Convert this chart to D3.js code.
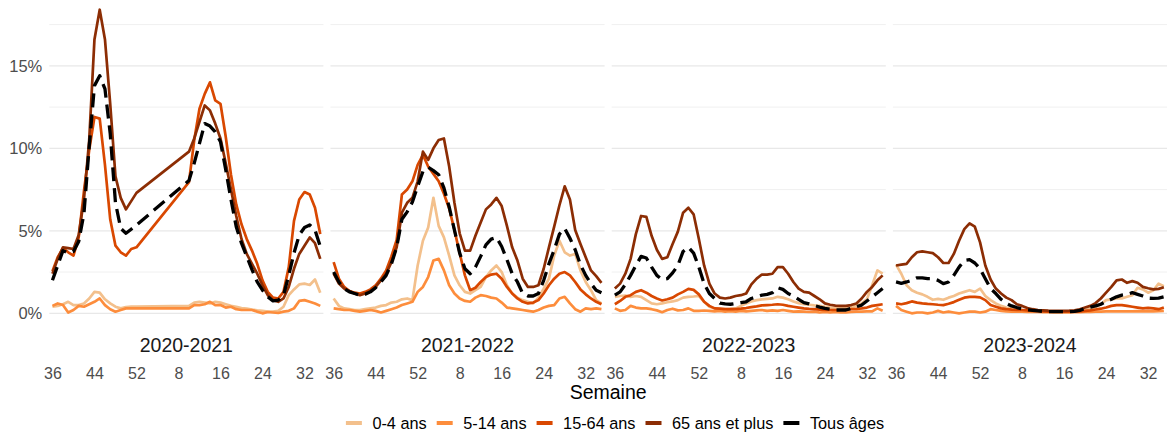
<!DOCTYPE html>
<html><head><meta charset="utf-8">
<script src="https://cdn.jsdelivr.net/npm/d3@7"></script>
<style>
body{margin:0;background:#fff;}
svg text{font-family:"Liberation Sans",Arial,sans-serif;}
</style>
</head><body>
<svg id="chart" width="1167" height="432"></svg>
<script>
// ---------- DATA ----------
const seasons = ["2020-2021", "2021-2022", "2022-2023", "2023-2024"];
const weeks = [36,37,38,39,40,41,42,43,44,45,46,47,48,49,50,51,52,
               1,2,3,4,5,6,7,8,9,10,11,12,13,14,15,16,17,18,19,20,21,22,23,24,25,26,27,28,29,30,31,32,33,34,35];
const tickWeeks = [36, 44, 52, 8, 16, 24, 32];
const yTicks = [0, 5, 10, 15];
const yMinor = [2.5, 7.5, 12.5, 17.5];
const ageGroups = ["0-4 ans", "5-14 ans", "15-64 ans", "65 ans et plus", "Tous âges"];
const groupColors = ["#f3c08c", "#fd8d3c", "#d94801", "#8c2d04", "#000000"];

// 2020-2021 (null = missing weeks)
const s2021_a04  = [0.4,0.45,0.55,0.7,0.5,0.5,0.6,0.9,1.3,1.25,0.85,0.6,0.4,0.3,0.38,0.4,0.4,null,null,null,null,null,null,null,null,null,0.45,0.65,0.7,0.65,0.6,0.7,0.65,0.55,0.45,0.4,0.32,0.28,0.22,0.18,0.15,0.1,0.1,0.15,0.4,1.1,1.45,1.75,1.8,1.72,2.05,1.25];
const s2021_a514 = [0.45,0.6,0.5,0.05,0.2,0.45,0.4,0.55,0.7,0.9,0.5,0.25,0.1,0.2,0.3,0.3,0.3,null,null,null,null,null,null,null,null,null,0.3,0.5,0.5,0.55,0.7,0.5,0.5,0.35,0.4,0.25,0.2,0.2,0.2,0.1,0.0,0.08,0.05,0.02,0.1,0.15,0.3,0.75,0.8,0.7,0.6,0.45];
const s2021_a1564= [2.55,3.4,3.95,3.7,3.5,4.6,7.4,9.9,11.9,11.8,9.0,5.7,4.1,3.7,3.5,3.9,4.0,null,null,null,null,null,null,null,null,null,7.95,10.5,12.4,13.3,14.0,12.9,12.7,10.7,8.4,6.6,5.4,4.5,3.8,3.0,2.0,1.3,0.95,0.9,1.3,2.8,5.6,6.9,7.35,7.2,6.4,4.8];
const s2021_a65  = [2.4,3.3,4.0,3.95,3.9,4.75,6.9,10.5,16.6,18.4,16.6,12.7,8.3,7.0,6.3,6.8,7.3,null,null,null,null,null,null,null,null,null,9.8,10.6,11.6,12.6,12.3,11.5,10.6,9.1,7.5,5.9,4.5,3.6,3.0,2.4,1.7,1.1,0.8,0.7,0.9,1.6,2.7,3.6,4.1,4.6,4.25,3.3];
const s2021_all  = [2.0,2.9,3.8,3.65,3.75,4.35,6.05,10.1,13.8,14.4,13.6,10.9,6.7,5.15,4.85,5.1,5.35,null,null,null,null,null,null,null,null,null,8.05,9.1,10.3,11.5,11.35,11.0,10.4,8.7,6.9,5.25,4.25,3.45,2.65,1.9,1.4,1.0,0.75,0.8,1.1,2.3,3.65,4.75,5.2,5.35,5.05,4.05];

// 2021-2022
const s2122_a04  = [0.9,0.45,0.3,0.25,0.2,0.2,0.25,0.3,0.35,0.45,0.5,0.65,0.7,0.85,0.9,0.8,2.9,4.4,5.2,7.0,5.3,4.6,3.5,2.3,1.7,1.3,1.2,1.4,1.6,2.2,2.6,2.9,2.5,1.7,1.2,0.95,0.8,0.7,0.6,0.95,1.5,2.1,3.5,4.4,3.7,3.5,3.6,2.6,1.9,1.4,0.8,0.6];
const s2122_a514 = [0.3,0.25,0.2,0.2,0.15,0.1,0.15,0.2,0.15,0.05,0.15,0.25,0.35,0.5,0.6,0.7,1.3,1.6,2.2,3.2,3.3,2.6,1.7,1.2,0.9,0.75,0.7,0.95,1.1,1.05,0.95,0.9,0.65,0.35,0.3,0.25,0.2,0.15,0.1,0.2,0.35,0.45,0.5,0.9,1.0,0.6,0.25,0.1,0.3,0.25,0.3,0.25];
const s2122_a1564= [3.1,2.1,1.6,1.35,1.25,1.2,1.3,1.45,1.7,2.1,2.6,3.45,4.45,7.2,7.5,8.0,9.0,9.6,8.9,8.45,8.0,7.25,6.35,5.05,3.65,2.3,1.4,1.55,1.9,2.2,2.35,2.4,2.1,1.6,1.2,0.9,0.7,0.6,0.65,0.8,1.2,1.7,2.1,2.4,2.5,2.3,1.9,1.45,1.15,0.9,0.7,0.55];
const s2122_a65  = [2.4,1.8,1.5,1.35,1.2,1.1,1.2,1.35,1.6,2.0,2.4,3.1,4.0,6.1,6.7,7.0,8.0,9.8,9.3,10.0,10.5,10.6,8.9,6.7,4.85,3.8,3.8,4.7,5.5,6.3,6.6,7.0,6.5,5.3,4.0,3.2,2.1,1.6,1.6,1.7,2.7,4.0,5.25,6.55,7.7,6.9,5.05,4.2,3.4,2.6,2.25,1.85];
const s2122_all  = [2.5,1.9,1.5,1.3,1.2,1.1,1.15,1.3,1.55,1.9,2.3,3.0,4.0,5.7,6.15,6.75,7.7,8.6,8.85,8.65,8.4,7.6,6.45,5.05,3.65,2.7,2.4,2.8,3.45,4.15,4.5,4.6,4.05,3.25,2.4,1.9,1.2,1.05,1.05,1.2,2.0,3.0,3.85,4.8,5.15,4.55,3.85,2.95,2.3,1.8,1.4,1.25];

// 2022-2023
const s2223_a04  = [1.0,1.05,1.08,1.0,1.05,1.0,0.8,0.6,0.55,0.6,0.67,0.72,0.8,0.95,1.0,1.02,1.05,0.7,0.4,0.3,0.25,0.25,0.27,0.3,0.45,0.6,0.72,0.8,0.85,0.88,0.9,1.0,0.95,0.85,0.72,0.62,0.56,0.52,0.48,0.45,0.4,0.35,0.3,0.3,0.3,0.35,0.45,0.6,0.85,1.7,2.6,2.4];
const s2223_a514 = [0.3,0.15,0.2,0.45,0.35,0.3,0.3,0.25,0.18,0.07,0.2,0.28,0.18,0.2,0.3,0.15,0.15,0.17,0.15,0.12,0.15,0.1,0.13,0.1,0.15,0.12,0.15,0.18,0.2,0.15,0.18,0.15,0.2,0.15,0.1,0.12,0.1,0.08,0.1,0.05,0.08,0.05,0.08,0.05,0.05,0.08,0.1,0.1,0.12,0.12,0.3,0.15];
const s2223_a1564= [0.55,0.75,1.0,1.1,1.3,1.4,1.25,1.05,0.9,0.78,0.85,0.95,1.15,1.3,1.48,1.42,1.15,0.7,0.45,0.3,0.28,0.25,0.25,0.25,0.28,0.32,0.38,0.42,0.48,0.5,0.52,0.55,0.52,0.45,0.4,0.35,0.3,0.27,0.25,0.22,0.2,0.2,0.2,0.2,0.22,0.25,0.27,0.3,0.35,0.45,0.5,0.55];
const s2223_a65  = [1.5,1.8,2.4,3.3,4.8,5.9,5.85,4.7,3.85,3.3,3.4,4.2,4.95,6.1,6.4,6.0,4.5,2.9,1.8,1.2,0.95,0.9,0.95,1.05,1.1,1.2,1.75,2.1,2.35,2.35,2.4,2.8,2.8,2.4,1.9,1.5,1.3,1.25,1.05,0.85,0.6,0.52,0.47,0.45,0.45,0.5,0.6,0.9,1.3,1.6,2.0,2.3];
const s2223_all  = [1.1,1.3,1.75,2.3,2.9,3.45,3.35,2.8,2.3,2.05,2.1,2.45,2.9,3.75,4.0,3.65,2.8,1.8,1.2,0.9,0.62,0.57,0.55,0.6,0.65,0.7,0.9,1.0,1.1,1.15,1.25,1.55,1.45,1.2,1.05,0.85,0.65,0.57,0.47,0.38,0.3,0.25,0.2,0.2,0.2,0.3,0.4,0.5,0.75,1.0,1.25,1.5];

// 2023-2024
const s2324_a04  = [2.95,2.4,1.7,1.4,1.25,1.15,1.0,0.82,0.88,0.82,0.95,1.05,1.2,1.3,1.4,1.3,1.5,1.05,0.8,0.6,0.45,0.35,0.3,0.25,0.2,0.18,0.15,0.14,0.12,0.12,0.1,0.1,0.1,0.1,0.1,0.15,0.2,0.28,0.38,0.55,0.8,0.85,0.9,0.9,1.0,1.1,1.55,1.45,1.25,1.4,1.8,1.65];
const s2324_a514 = [0.45,0.2,0.1,0.0,0.05,0.05,0.0,0.05,0.15,0.05,0.1,0.05,0.0,0.05,0.1,0.1,0.05,0.1,0.25,0.2,0.15,0.12,0.1,0.1,0.1,0.08,0.08,0.08,0.07,0.07,0.06,0.06,0.06,0.06,0.07,0.07,0.08,0.08,0.1,0.1,0.12,0.12,0.12,0.12,0.12,0.12,0.13,0.12,0.13,0.12,0.13,0.15];
const s2324_a1564= [0.6,0.55,0.62,0.72,0.65,0.6,0.57,0.55,0.52,0.5,0.58,0.68,0.82,0.95,1.0,1.0,0.97,0.8,0.5,0.4,0.3,0.25,0.22,0.2,0.2,0.18,0.15,0.14,0.12,0.1,0.1,0.1,0.1,0.1,0.1,0.12,0.15,0.18,0.23,0.28,0.35,0.45,0.5,0.5,0.45,0.4,0.35,0.3,0.33,0.3,0.25,0.35];
const s2324_a65  = [2.9,2.95,3.0,3.4,3.7,3.75,3.7,3.65,3.4,3.05,3.05,3.6,4.4,5.1,5.45,5.25,4.3,2.9,2.05,1.5,1.2,0.95,0.8,0.55,0.45,0.32,0.25,0.2,0.18,0.16,0.15,0.15,0.15,0.16,0.18,0.25,0.35,0.45,0.62,0.9,1.25,1.6,2.0,2.05,1.85,1.95,1.85,1.6,1.52,1.45,1.48,1.58];
const s2324_all  = [1.9,1.82,1.9,2.0,2.15,2.15,2.1,2.1,2.0,1.8,1.9,2.3,2.8,3.2,3.25,3.05,2.7,2.1,1.5,1.2,0.85,0.6,0.45,0.35,0.27,0.22,0.18,0.15,0.12,0.1,0.1,0.1,0.1,0.1,0.12,0.18,0.3,0.38,0.45,0.55,0.72,0.85,1.0,1.1,1.15,1.25,1.15,1.05,0.92,0.9,0.92,1.0];

const seasonSeries = [
  [s2021_a04, s2021_a514, s2021_a1564, s2021_a65, s2021_all],
  [s2122_a04, s2122_a514, s2122_a1564, s2122_a65, s2122_all],
  [s2223_a04, s2223_a514, s2223_a1564, s2223_a65, s2223_all],
  [s2324_a04, s2324_a514, s2324_a1564, s2324_a65, s2324_all]
];

// ---------- LAYOUT ----------
const svg = d3.select("#chart");
const plotL = 49.3, plotR = 1167, gap = 7.1;
const nP = seasons.length;
const pw = (plotR - plotL - gap * (nP - 1)) / nP;
const panelTop = 0, panelBot = 328.5;

const x = d3.scalePoint().domain(weeks).range([0, pw]).padding(0.6);
const y = d3.scaleLinear().domain([-0.92, 18.99]).range([panelBot, panelTop]);

const line = d3.line().x(d => x(d.w)).y(d => y(d.v));

seasons.forEach((season, p) => {
  const g = svg.append("g").attr("transform", `translate(${plotL + p * (pw + gap)},0)`);
  // grid
  g.selectAll("line.minor").data(yMinor).enter().append("line")
    .attr("x1", 0).attr("x2", pw).attr("y1", d => y(d)).attr("y2", d => y(d))
    .attr("stroke", "#eeeeee").attr("stroke-width", 0.9);
  g.selectAll("line.major").data(yTicks).enter().append("line")
    .attr("x1", 0).attr("x2", pw).attr("y1", d => y(d)).attr("y2", d => y(d))
    .attr("stroke", "#e8e8e8").attr("stroke-width", 1.2);

  // lines
  seasonSeries[p].forEach((vals, k) => {
    const pts = vals.map((v, i) => ({w: weeks[i], v: v})).filter(d => d.v !== null);
    g.append("path").datum(pts)
      .attr("d", line)
      .attr("fill", "none")
      .attr("stroke", groupColors[k])
      .attr("stroke-width", k === 4 ? 3.3 : 2.7)
      .attr("stroke-linejoin", "round")
      .attr("stroke-dasharray", k === 4 ? "14,7" : null);
  });

  // strip label
  g.append("text").attr("x", pw / 2).attr("y", 352)
    .attr("text-anchor", "middle").attr("font-size", 19.5).attr("fill", "#1a1a1a")
    .text(season);

  // x axis
  const ax = g.append("g").attr("transform", "translate(0,368)")
    .call(d3.axisBottom(x).tickValues(tickWeeks).tickSize(0).tickPadding(0));
  ax.select(".domain").remove();
  ax.selectAll("text").attr("font-size", 16).attr("fill", "#4d4d4d")
    .style("font-family", '"Liberation Sans",Arial,sans-serif');

  if (p === 0) {
    const ay = g.append("g")
      .call(d3.axisLeft(y).tickValues(yTicks).tickFormat(d => d + "%").tickSize(0).tickPadding(7));
    ay.select(".domain").remove();
    ay.selectAll("text").attr("font-size", 16.5).attr("fill", "#4d4d4d")
      .style("font-family", '"Liberation Sans",Arial,sans-serif');
  }
});

// x title
svg.append("text").attr("x", (plotL + plotR) / 2).attr("y", 399)
  .attr("text-anchor", "middle").attr("font-size", 19.5).attr("fill", "#000")
  .text("Semaine");

// legend
const lg = svg.append("g");
const legFs = 16.3, keyW = 16, keyGap = 10.5, itemGap = 10, legY = 423;
let cx = 0;
ageGroups.forEach((name, k) => {
  const it = lg.append("g").attr("transform", `translate(${cx},0)`);
  it.append("line").attr("x1", 0).attr("x2", keyW).attr("y1", legY).attr("y2", legY)
    .attr("stroke", groupColors[k]).attr("stroke-width", 4);
  const t = it.append("text").attr("x", keyW + keyGap).attr("y", legY).attr("dy", "0.35em")
    .attr("font-size", legFs).attr("fill", "#000").text(name);
  cx += keyW + keyGap + t.node().getComputedTextLength() + itemGap;
});
const legW = cx - itemGap;
lg.attr("transform", `translate(${615 - legW / 2},0)`);
</script>
</body></html>
